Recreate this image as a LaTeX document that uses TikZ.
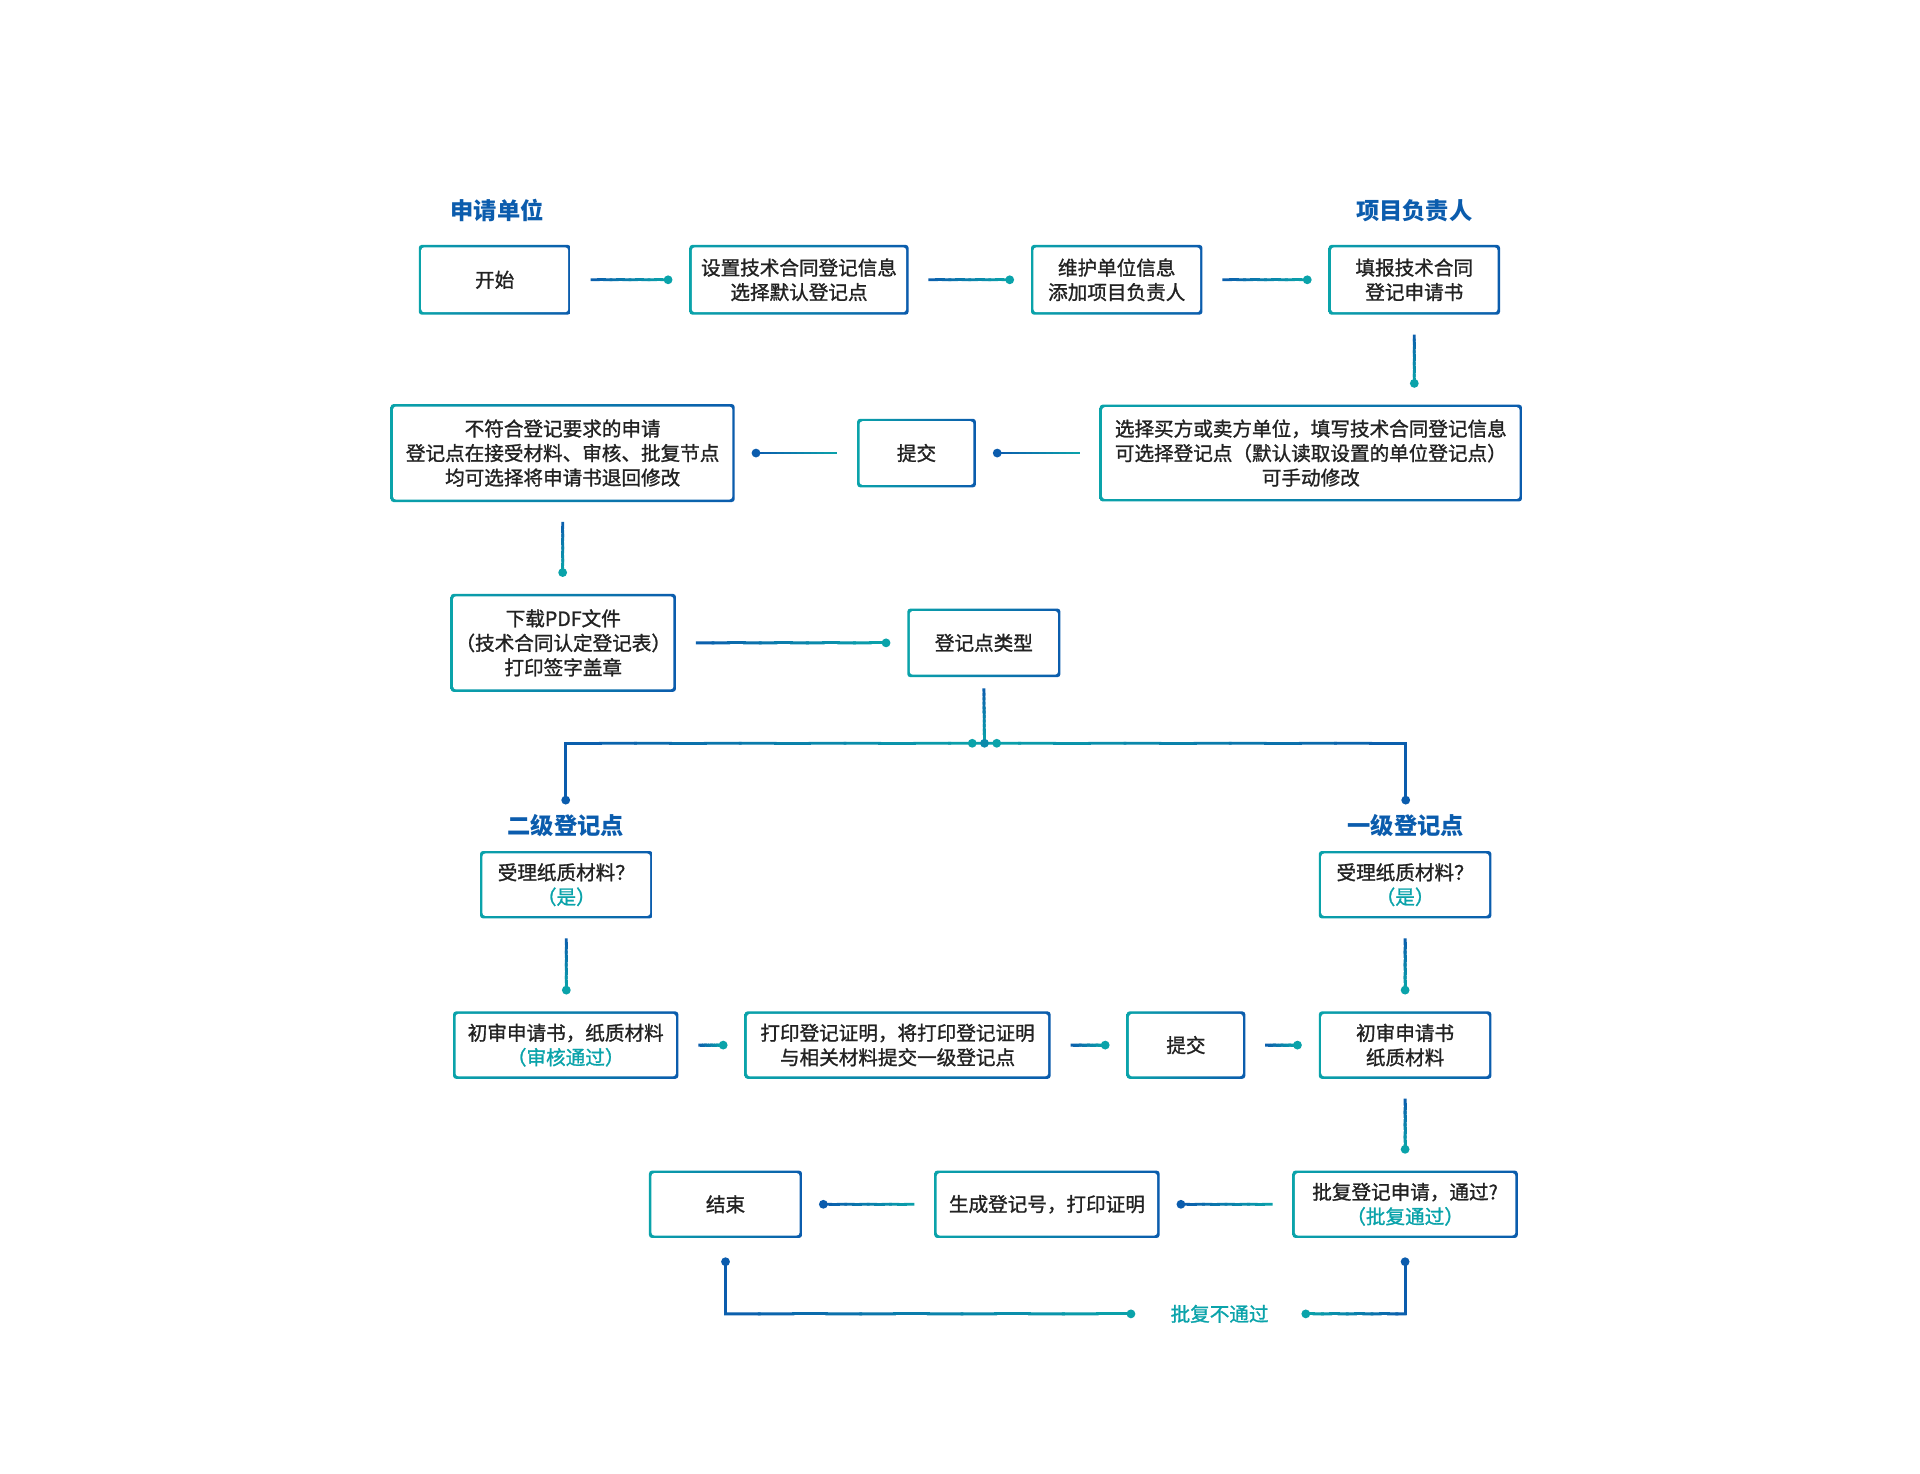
\documentclass[tikz,border=0pt]{standalone}
\usepackage{fontspec}
\usetikzlibrary{calc}
\newfontfamily\cjk[FakeBold=1.2]{Noto Sans CJK SC}
\newfontfamily\cjktitle{Noto Sans CJK SC}
\definecolor{flowBlue}{HTML}{0B5CAD}
\definecolor{flowTeal}{HTML}{0AA3AA}
\definecolor{flowInk}{HTML}{222222}

\tikzset{
  flowbox/.style={fill=white, rounded corners=1.2pt, align=center, inner sep=0pt,
    text=flowInk, font=\cjk\fontsize{8}{10}\selectfont,
    path picture={
      \shade[left color=flowTeal, right color=flowBlue]
        (path picture bounding box.south west) rectangle (path picture bounding box.north east);
      \fill[white] ([shift={(1pt,1pt)}]path picture bounding box.south west)
        rectangle ([shift={(-1pt,-1pt)}]path picture bounding box.north east);}},
  roletitle/.style={text=flowBlue, inner sep=2pt, font=\cjktitle\bfseries\fontsize{9.5}{11}\selectfont},
  wire/.style={line width=1.15pt, line cap=rect},
  hint/.style={text=flowTeal, inner sep=2pt, font=\cjk\fontsize{8}{10}\selectfont}
}

% colour runs from #3 to #4 along the wire
\newcommand\gradwire[4]{%
  \foreach \k in {0,...,11}{%
    \pgfmathsetmacro\lkFrom{\k/12}%
    \pgfmathsetmacro\lkTo{(\k+1)/12}%
    \pgfmathtruncatemacro\lkMix{100-100*(\k+0.5)/12}%
    \draw[wire, #3!\lkMix!#4] ($(#1)!\lkFrom!(#2)$) -- ($(#1)!\lkTo!(#2)$);
  }}
\newcommand\boxlink[4]{%
  \coordinate (lkA) at ($(#1)!8.5pt!(#2)$);
  \coordinate (lkB) at ($(#2)!8.5pt!(#1)$);
  \gradwire{lkA}{lkB}{#3}{#4}
  \fill[#4] (lkB) circle (1.8pt);}

\begin{document}
\begin{tikzpicture}[x=0.5pt, y=-0.5pt]
  \fill[white] (0,0) rectangle (1568,1203);
  \useasboundingbox (0,0) rectangle (1568,1203);

  % titles
  \node[roletitle] (tapp) at (406,172) {申请单位};
  \node[roletitle] (tlead) at (1155,172) {项目负责人};

  % row 1
  \node[flowbox, minimum width=62pt, minimum height=28.5pt] (start) at (404,228.5) {开始};
  \node[flowbox, minimum width=89.5pt, minimum height=28.5pt] (setinfo) at (652.5,228.5) {设置技术合同登记信息\\选择默认登记点};
  \node[flowbox, minimum width=70pt, minimum height=28.5pt] (maintain) at (912,228.5) {维护单位信息\\添加项目负责人};
  \node[flowbox, minimum width=70pt, minimum height=28.5pt] (fillform) at (1155,228.5) {填报技术合同\\登记申请书};

  % row 2
  \node[flowbox, minimum width=140.5pt, minimum height=40pt] (reject) at (459.5,370) {不符合登记要求的申请\\登记点在接受材料、审核、批复节点\\均可选择将申请书退回修改};
  \node[flowbox, minimum width=48.5pt, minimum height=28pt] (submit1) at (748.5,370) {提交};
  \node[flowbox, minimum width=172.5pt, minimum height=39.5pt] (choose) at (1070.5,370) {选择买方或卖方单位，填写技术合同登记信息\\可选择登记点（默认读取设置的单位登记点）\\可手动修改};

  % row 3
  \node[flowbox, minimum width=92pt, minimum height=40pt] (download) at (460,525) {下载PDF文件\\（技术合同认定登记表）\\打印签字盖章};
  \node[flowbox, minimum width=62.5pt, minimum height=28pt] (regtype) at (803.5,525) {登记点类型};

  % registration levels
  \node[roletitle] (tlevel2) at (462,674) {二级登记点};
  \node[roletitle] (tlevel1) at (1148,674) {一级登记点};
  \node[flowbox, minimum width=70.5pt, minimum height=27.5pt] (accept2) at (462.5,722.5) {受理纸质材料？\\\textcolor{flowTeal}{（是）}};
  \node[flowbox, minimum width=70.5pt, minimum height=27.5pt] (accept1) at (1147.5,722.5) {受理纸质材料？\\\textcolor{flowTeal}{（是）}};

  % row 5
  \node[flowbox, minimum width=92pt, minimum height=27.5pt] (review2) at (462,853.5) {初审申请书，纸质材料\\\textcolor{flowTeal}{（审核通过）}};
  \node[flowbox, minimum width=125pt, minimum height=27.5pt] (printcert) at (733,853.5) {打印登记证明，将打印登记证明\\与相关材料提交一级登记点};
  \node[flowbox, minimum width=48.5pt, minimum height=27.5pt] (submit2) at (968.5,853.5) {提交};
  \node[flowbox, minimum width=70.5pt, minimum height=27.5pt] (review1) at (1147.5,853.5) {初审申请书\\纸质材料};

  % row 6
  \node[flowbox, minimum width=62.5pt, minimum height=27.5pt] (finish) at (592.5,983.5) {结束};
  \node[flowbox, minimum width=92pt, minimum height=27.5pt] (gennum) at (855,983.5) {生成登记号，打印证明};
  \node[flowbox, minimum width=92pt, minimum height=27.5pt] (approve) at (1147.5,983.5) {批复登记申请，通过?\\\textcolor{flowTeal}{（批复通过）}};
  \node[hint] (noapp) at (996,1073) {批复不通过};

  % connectors
  \boxlink{start.east}{setinfo.west}{flowBlue}{flowTeal}
  \boxlink{setinfo.east}{maintain.west}{flowBlue}{flowTeal}
  \boxlink{maintain.east}{fillform.west}{flowBlue}{flowTeal}
  \boxlink{fillform.south}{fillform.south |- choose.north}{flowBlue}{flowTeal}
  \boxlink{choose.west}{submit1.east}{flowTeal}{flowBlue}
  \boxlink{submit1.west}{reject.east}{flowTeal}{flowBlue}
  \boxlink{reject.south}{reject.south |- download.north}{flowBlue}{flowTeal}
  \boxlink{download.east}{regtype.west}{flowBlue}{flowTeal}

  % split by registration level
  \coordinate (split) at (804,607);
  \coordinate (typeout) at ([yshift=-5pt]regtype.south);
  \coordinate (leftturn) at (split -| tlevel2);
  \coordinate (rightturn) at (split -| tlevel1);
  \coordinate (leftend) at ([yshift=3.5pt]tlevel2.north);
  \coordinate (rightend) at ([yshift=3.5pt]tlevel1.north);
  \gradwire{typeout}{split}{flowBlue}{flowTeal}
  \gradwire{split}{leftturn}{flowTeal}{flowBlue}
  \gradwire{split}{rightturn}{flowTeal}{flowBlue}
  \draw[wire, flowBlue] (leftturn) -- (leftend);
  \draw[wire, flowBlue] (rightturn) -- (rightend);
  \fill[flowBlue] (leftend) circle (1.8pt);
  \fill[flowBlue] (rightend) circle (1.8pt);
  \fill[flowTeal] ([xshift=-5pt]split) circle (1.8pt);
  \fill[flowBlue!35!flowTeal] (split) circle (1.8pt);
  \fill[flowTeal] ([xshift=5pt]split) circle (1.8pt);

  \boxlink{accept2.south}{accept2.south |- review2.north}{flowBlue}{flowTeal}
  \boxlink{accept1.south}{accept1.south |- review1.north}{flowBlue}{flowTeal}
  \boxlink{review2.east}{printcert.west}{flowBlue}{flowTeal}
  \boxlink{printcert.east}{submit2.west}{flowBlue}{flowTeal}
  \boxlink{submit2.east}{review1.west}{flowBlue}{flowTeal}
  \boxlink{review1.south}{review1.south |- approve.north}{flowBlue}{flowTeal}
  \boxlink{approve.west}{gennum.east}{flowTeal}{flowBlue}
  \boxlink{gennum.west}{finish.east}{flowTeal}{flowBlue}

  % not approved
  \coordinate (finishout) at ([yshift=-9.5pt]finish.south);
  \coordinate (approveout) at ([yshift=-9.5pt]approve.south);
  \coordinate (loopleft) at (finish |- noapp);
  \coordinate (loopright) at (approve |- noapp);
  \coordinate (noappL) at ([xshift=-14pt]noapp.west);
  \coordinate (noappR) at ([xshift=13pt]noapp.east);
  \draw[wire, flowBlue] (finishout) -- (loopleft);
  \draw[wire, flowBlue] (approveout) -- (loopright);
  \gradwire{loopleft}{noappL}{flowBlue}{flowTeal}
  \gradwire{loopright}{noappR}{flowBlue}{flowTeal}
  \fill[flowBlue] (finishout) circle (1.8pt);
  \fill[flowBlue] (approveout) circle (1.8pt);
  \fill[flowTeal] (noappL) circle (1.8pt);
  \fill[flowTeal] (noappR) circle (1.8pt);
\end{tikzpicture}
\end{document}
